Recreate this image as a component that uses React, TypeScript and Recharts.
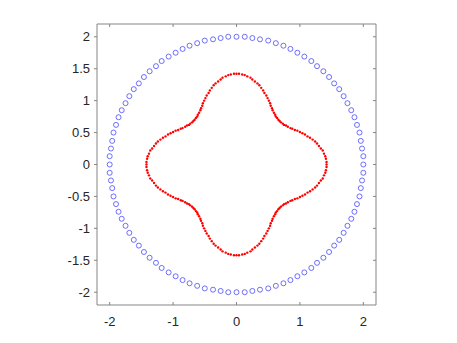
import React from 'react';
import { ScatterChart, Scatter, XAxis, YAxis } from 'recharts';

// outer ring, radius 2, 100 markers
const ringPoints: [number, number][] = [
  [2.00,0.00],[2.00,0.13],[1.98,0.25],[1.96,0.37],[1.94,0.50],[1.90,0.62],[1.86,0.74],[1.81,0.85],[1.75,0.96],[1.69,1.07],[1.62,1.18],[1.54,1.27],[1.46,1.37],[1.37,1.46],[1.27,1.54],[1.18,1.62],[1.07,1.69],[0.96,1.75],[0.85,1.81],[0.74,1.86],[0.62,1.90],[0.50,1.94],[0.37,1.96],[0.25,1.98],[0.13,2.00],
  [0.00,2.00],[-0.13,2.00],[-0.25,1.98],[-0.37,1.96],[-0.50,1.94],[-0.62,1.90],[-0.74,1.86],[-0.85,1.81],[-0.96,1.75],[-1.07,1.69],[-1.18,1.62],[-1.27,1.54],[-1.37,1.46],[-1.46,1.37],[-1.54,1.27],[-1.62,1.18],[-1.69,1.07],[-1.75,0.96],[-1.81,0.85],[-1.86,0.74],[-1.90,0.62],[-1.94,0.50],[-1.96,0.37],[-1.98,0.25],[-2.00,0.13],
  [-2.00,0.00],[-2.00,-0.13],[-1.98,-0.25],[-1.96,-0.37],[-1.94,-0.50],[-1.90,-0.62],[-1.86,-0.74],[-1.81,-0.85],[-1.75,-0.96],[-1.69,-1.07],[-1.62,-1.18],[-1.54,-1.27],[-1.46,-1.37],[-1.37,-1.46],[-1.27,-1.54],[-1.18,-1.62],[-1.07,-1.69],[-0.96,-1.75],[-0.85,-1.81],[-0.74,-1.86],[-0.62,-1.90],[-0.50,-1.94],[-0.37,-1.96],[-0.25,-1.98],[-0.13,-2.00],
  [0.00,-2.00],[0.13,-2.00],[0.25,-1.98],[0.37,-1.96],[0.50,-1.94],[0.62,-1.90],[0.74,-1.86],[0.85,-1.81],[0.96,-1.75],[1.07,-1.69],[1.18,-1.62],[1.27,-1.54],[1.37,-1.46],[1.46,-1.37],[1.54,-1.27],[1.62,-1.18],[1.69,-1.07],[1.75,-0.96],[1.81,-0.85],[1.86,-0.74],[1.90,-0.62],[1.94,-0.50],[1.96,-0.37],[1.98,-0.25],[2.00,-0.13],
];

// inner four-lobed curve, 200 dots
const curvePoints: [number, number][] = [
  [1.42,0.00],[1.42,0.04],[1.41,0.09],[1.40,0.13],[1.38,0.17],[1.36,0.22],[1.33,0.25],[1.30,0.29],[1.27,0.33],[1.24,0.36],[1.20,0.39],[1.16,0.42],[1.12,0.44],[1.08,0.47],[1.04,0.49],[1.00,0.51],[0.96,0.53],[0.92,0.54],[0.88,0.56],[0.85,0.57],[0.81,0.59],[0.78,0.61],[0.75,0.62],[0.73,0.64],[0.70,0.66],[0.68,0.68],[0.66,0.70],[0.64,0.73],[0.62,0.75],[0.61,0.78],[0.59,0.81],[0.57,0.85],[0.56,0.88],[0.54,0.92],[0.53,0.96],[0.51,1.00],[0.49,1.04],[0.47,1.08],[0.44,1.12],[0.42,1.16],[0.39,1.20],[0.36,1.24],[0.33,1.27],[0.29,1.30],[0.25,1.33],[0.22,1.36],[0.17,1.38],[0.13,1.40],[0.09,1.41],[0.04,1.42],
  [0.00,1.42],[-0.04,1.42],[-0.09,1.41],[-0.13,1.40],[-0.17,1.38],[-0.22,1.36],[-0.25,1.33],[-0.29,1.30],[-0.33,1.27],[-0.36,1.24],[-0.39,1.20],[-0.42,1.16],[-0.44,1.12],[-0.47,1.08],[-0.49,1.04],[-0.51,1.00],[-0.53,0.96],[-0.54,0.92],[-0.56,0.88],[-0.57,0.85],[-0.59,0.81],[-0.61,0.78],[-0.62,0.75],[-0.64,0.73],[-0.66,0.70],[-0.68,0.68],[-0.70,0.66],[-0.73,0.64],[-0.75,0.62],[-0.78,0.61],[-0.81,0.59],[-0.85,0.57],[-0.88,0.56],[-0.92,0.54],[-0.96,0.53],[-1.00,0.51],[-1.04,0.49],[-1.08,0.47],[-1.12,0.44],[-1.16,0.42],[-1.20,0.39],[-1.24,0.36],[-1.27,0.33],[-1.30,0.29],[-1.33,0.25],[-1.36,0.22],[-1.38,0.17],[-1.40,0.13],[-1.41,0.09],[-1.42,0.04],
  [-1.42,0.00],[-1.42,-0.04],[-1.41,-0.09],[-1.40,-0.13],[-1.38,-0.17],[-1.36,-0.22],[-1.33,-0.25],[-1.30,-0.29],[-1.27,-0.33],[-1.24,-0.36],[-1.20,-0.39],[-1.16,-0.42],[-1.12,-0.44],[-1.08,-0.47],[-1.04,-0.49],[-1.00,-0.51],[-0.96,-0.53],[-0.92,-0.54],[-0.88,-0.56],[-0.85,-0.57],[-0.81,-0.59],[-0.78,-0.61],[-0.75,-0.62],[-0.73,-0.64],[-0.70,-0.66],[-0.68,-0.68],[-0.66,-0.70],[-0.64,-0.73],[-0.62,-0.75],[-0.61,-0.78],[-0.59,-0.81],[-0.57,-0.85],[-0.56,-0.88],[-0.54,-0.92],[-0.53,-0.96],[-0.51,-1.00],[-0.49,-1.04],[-0.47,-1.08],[-0.44,-1.12],[-0.42,-1.16],[-0.39,-1.20],[-0.36,-1.24],[-0.33,-1.27],[-0.29,-1.30],[-0.25,-1.33],[-0.22,-1.36],[-0.17,-1.38],[-0.13,-1.40],[-0.09,-1.41],[-0.04,-1.42],
  [0.00,-1.42],[0.04,-1.42],[0.09,-1.41],[0.13,-1.40],[0.17,-1.38],[0.22,-1.36],[0.25,-1.33],[0.29,-1.30],[0.33,-1.27],[0.36,-1.24],[0.39,-1.20],[0.42,-1.16],[0.44,-1.12],[0.47,-1.08],[0.49,-1.04],[0.51,-1.00],[0.53,-0.96],[0.54,-0.92],[0.56,-0.88],[0.57,-0.85],[0.59,-0.81],[0.61,-0.78],[0.62,-0.75],[0.64,-0.73],[0.66,-0.70],[0.68,-0.68],[0.70,-0.66],[0.73,-0.64],[0.75,-0.62],[0.78,-0.61],[0.81,-0.59],[0.85,-0.57],[0.88,-0.56],[0.92,-0.54],[0.96,-0.53],[1.00,-0.51],[1.04,-0.49],[1.08,-0.47],[1.12,-0.44],[1.16,-0.42],[1.20,-0.39],[1.24,-0.36],[1.27,-0.33],[1.30,-0.29],[1.33,-0.25],[1.36,-0.22],[1.38,-0.17],[1.40,-0.13],[1.41,-0.09],[1.42,-0.04],
];

const xTicks = [-2, -1, 0, 1, 2];
const yTicks = [-2, -1.5, -1, -0.5, 0, 0.5, 1, 1.5, 2];
const domain: [number, number] = [-2.2, 2.2];

const ringData = ringPoints.map(([x, y]) => ({ x, y }));
const curveData = curvePoints.map(([x, y]) => ({ x, y }));

const axisColor = '#858585';
const tickFont = { fontSize: 13, fontFamily: 'Liberation Sans, Arial, Helvetica, sans-serif', fill: '#262626' };

const RingMarker = (props: any) => (
  <circle cx={props.cx} cy={props.cy} r={2.5} fill="none" stroke="#4040ff" strokeWidth={0.75} />
);

const DotMarker = (props: any) => (
  <circle cx={props.cx} cy={props.cy} r={1.2} fill="#ff0000" />
);

const NoMarker = () => <g />;

export default function App() {
  return (
    <div style={{ position: 'absolute', left: 0, top: 0, background: '#fff' }}>
      <ScatterChart width={457} height={343} margin={{ top: 24, right: 81, left: 57, bottom: 8 }}>
        <XAxis
          type="number"
          dataKey="x"
          domain={domain}
          ticks={xTicks}
          allowDataOverflow
          height={30}
          stroke={axisColor}
          tickSize={-3}
          tickMargin={15}
          tick={tickFont}
        />
        {/* box top edge, ticks pointing in */}
        <XAxis
          xAxisId="top"
          orientation="top"
          type="number"
          dataKey="x"
          domain={domain}
          ticks={xTicks}
          allowDataOverflow
          height={1}
          mirror
          stroke={axisColor}
          tickSize={3}
          tickFormatter={() => ''}
        />
        <YAxis
          type="number"
          dataKey="y"
          domain={domain}
          ticks={yTicks}
          allowDataOverflow
          width={40}
          stroke={axisColor}
          tickSize={3}
          tickMargin={4}
          tick={tickFont}
        />
        {/* box right edge, ticks pointing in */}
        <YAxis
          yAxisId="right"
          orientation="right"
          type="number"
          dataKey="y"
          domain={domain}
          ticks={yTicks}
          allowDataOverflow
          width={1}
          mirror
          stroke={axisColor}
          tickSize={3}
          tickFormatter={() => ''}
        />
        <Scatter data={ringData} xAxisId="top" yAxisId="right" shape={NoMarker} isAnimationActive={false} />
        <Scatter data={ringData} shape={RingMarker} isAnimationActive={false} />
        <Scatter data={curveData} shape={DotMarker} isAnimationActive={false} />
      </ScatterChart>
    </div>
  );
}
